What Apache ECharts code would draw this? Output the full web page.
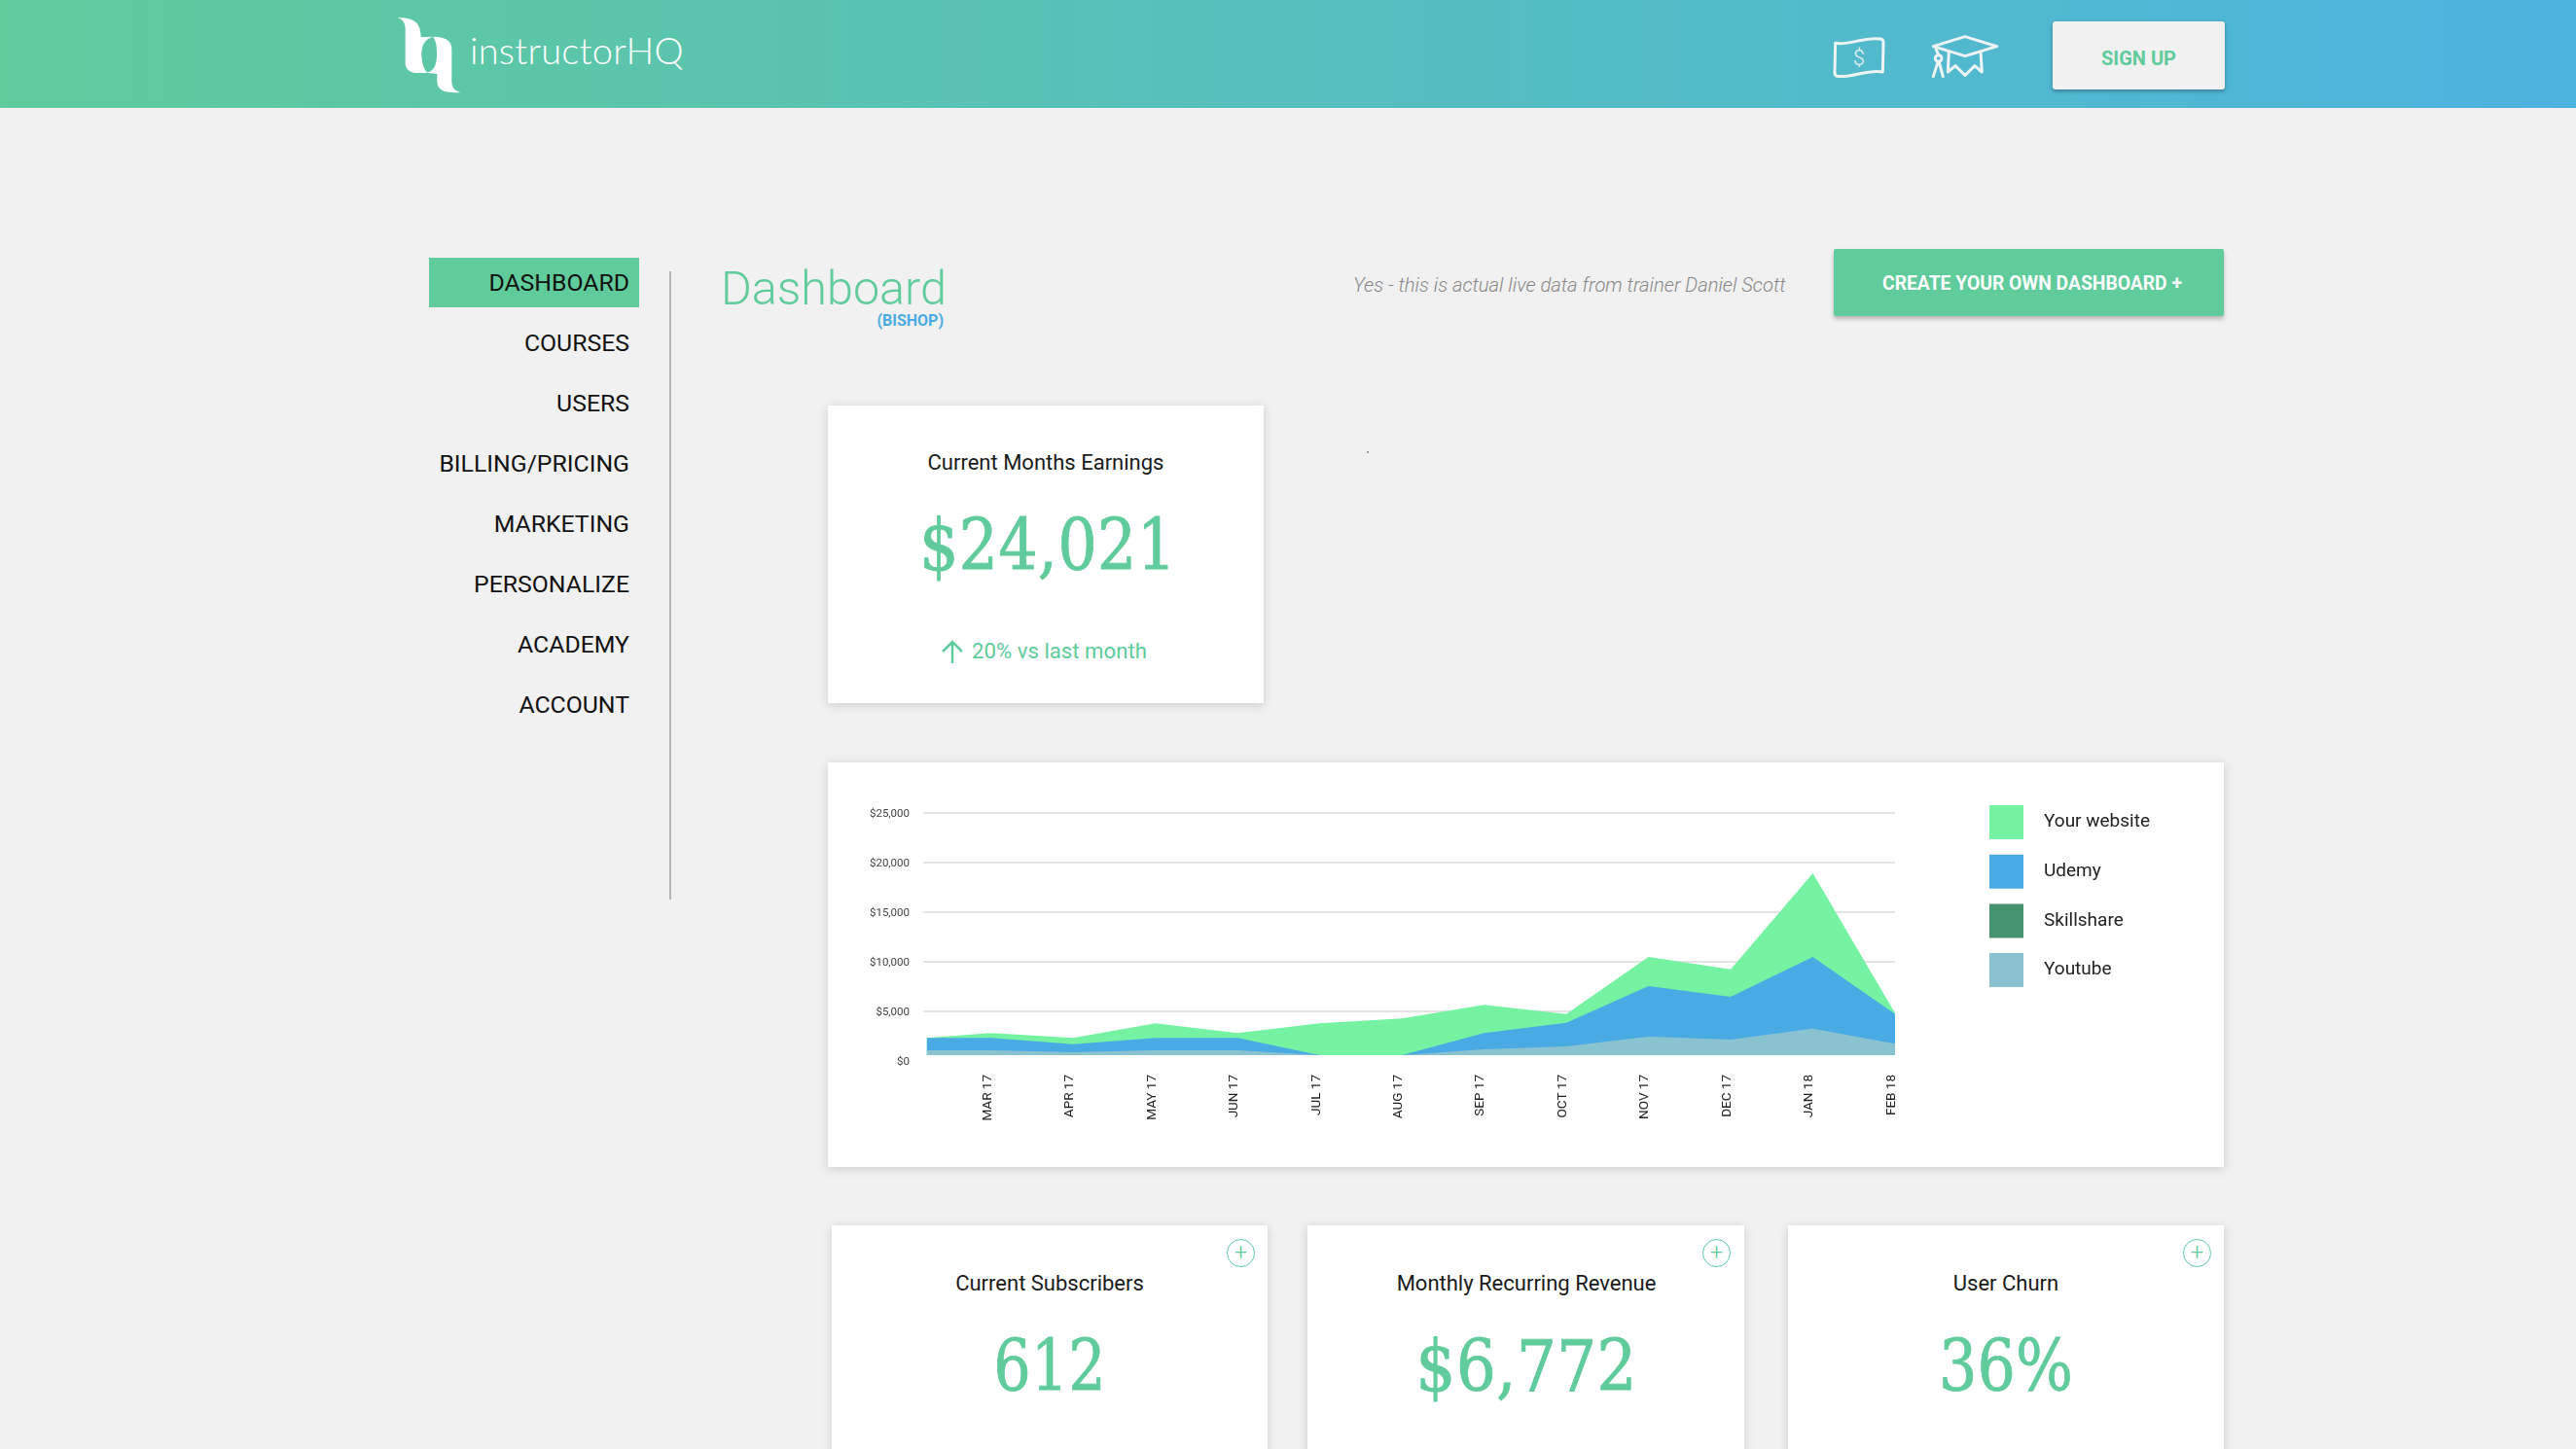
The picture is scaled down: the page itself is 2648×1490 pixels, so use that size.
<!DOCTYPE html>
<html>
<head>
<meta charset="utf-8">
<title>instructorHQ Dashboard</title>
<script src="https://cdn.jsdelivr.net/npm/echarts@6/dist/echarts.min.js"></script>
<style>
    html, body { margin: 0; padding: 0; width: 2648px; height: 1490px; overflow: hidden; background: #f1f1f1; font-family: Roboto, sans-serif; color: #222; }
    .abs { position: absolute; white-space: nowrap; }
    .header { left: 0; top: 0; width: 2648px; height: 111px; background: linear-gradient(90deg, #60cb9b 0%, #4db3df 100%); }
    .brand { left: 483px; top: 28px; font: 300 38px Lato, sans-serif; letter-spacing: .25px; color: #fff; }
    .signup { left: 2110px; top: 22px; width: 177px; height: 70px; line-height: 76px; text-align: center; background: #f1f1f1; border-radius: 3px; box-shadow: 0 2px 4px rgba(0,0,0,.3); color: #60cb9b; font-weight: 700; font-size: 20px; }
    .active { left: 441px; top: 265px; width: 216px; height: 51px; background: #60cb9b; }
    .nav { right: 2001px; font-size: 24.8px; line-height: 30px; color: #111; }
    .divider { left: 688px; top: 279px; width: 2px; height: 646px; background: #b5b5b5; }
    .title { left: 741px; top: 267px; font-weight: 300; font-size: 48.5px; line-height: 60px; color: #60cb9b; }
    .bishop { right: 1678px; top: 320px; font-weight: 700; font-size: 16px; line-height: 20px; color: #4aabe4; }
    .note { left: 1391px; top: 280px; font-style: italic; font-weight: 300; font-size: 20.2px; line-height: 26px; color: #888; }
    .create { left: 1885px; top: 256px; width: 401px; height: 69px; line-height: 71px; text-align: center; text-indent: 7px; background: #60cb9b; border-radius: 2px; box-shadow: 0 3px 4px rgba(0,0,0,.25); color: #fff; font-weight: 700; font-size: 19.3px; }
    .card { background: #fff; box-shadow: 0 2px 10px rgba(0,0,0,.15); }
    .label { font-size: 22px; line-height: 30px; text-align: center; color: #1a1a1a; transform: translateX(-50%); }
    .big { font-family: "DejaVu Serif", serif; font-size: 73px; line-height: 90px; color: #60cb9b; -webkit-text-stroke: .8px #60cb9b; transform: translateX(-50%) scaleX(.875); }
    .trend { left: 999px; top: 654px; font-size: 22.2px; line-height: 30px; color: #60cb9b; }
    .plus { width: 27px; height: 27px; border: 1.5px solid #60cb9b; border-radius: 50%; text-align: center; font-weight: 300; font-size: 24px; line-height: 26px; color: #60cb9b; }
    #earnings_chart { position: absolute; left: 851px; top: 784px; width: 1435px; height: 416px; }
</style>
</head>
<body>

<div class="abs header"></div>
<!-- logo -->
<svg class="abs" style="left:380px;top:0" width="500" height="120" viewBox="0 0 1500 360">
    <path fill="#fff" d="M85 55 C125 55 158 60 158 115 L195 113 C170 122 160 140 160 165 C160 190 165 210 178 225 L140 225 C120 222 110 210 110 195 L110 90 C110 70 100 58 85 55 Z"/>
    <path fill="#fff" d="M195 113 C232 113 253 125 253 150 L253 250 C253 270 262 282 282 285 C240 287 208 285 208 250 L208 228 L175 224 C195 222 205 205 207 175 C208 145 205 125 195 113 Z"/>
</svg>
<div class="abs brand">instructorHQ</div>
<!-- header icons -->
<svg class="abs" style="left:1850px;top:0" width="480" height="120" viewBox="0 0 1440 360">
    <g fill="none" stroke="#eef3f3" stroke-width="9" stroke-linecap="round" stroke-linejoin="round">
        <path d="M110 133 C150 142 200 112 250 120 Q258 122 258 130 L256 222 C210 212 160 242 115 235 Q108 232 108 225 Z"/>
        <path d="M412 143 L510 113 L608 143 L510 173 Z"/>
        <path d="M460 160 L457 222 L480 203 L510 232 L540 203 L562 222 L558 160"/>
        <path d="M420 150 L428 170 M426 192 L412 236 M430 192 L442 236"/>
        <circle cx="428" cy="180" r="10"/>
    </g>
    <text x="183" y="201" text-anchor="middle" fill="#eef3f3" font-family="Roboto" font-weight="300" font-size="64">$</text>
</svg>
<div class="abs signup">SIGN UP</div>

<!-- side menu -->
<div class="abs active"></div>
<div class="abs nav" style="top:276px">DASHBOARD</div>
<div class="abs nav" style="top:338px">COURSES</div>
<div class="abs nav" style="top:400px">USERS</div>
<div class="abs nav" style="top:462px">BILLING/PRICING</div>
<div class="abs nav" style="top:524px">MARKETING</div>
<div class="abs nav" style="top:586px">PERSONALIZE</div>
<div class="abs nav" style="top:648px">ACADEMY</div>
<div class="abs nav" style="top:710px">ACCOUNT</div>
<div class="abs divider"></div>

<div class="abs title">Dashboard</div>
<div class="abs bishop">(BISHOP)</div>
<div class="abs note">Yes - this is actual live data from trainer Daniel Scott</div>
<div class="abs create">CREATE YOUR OWN DASHBOARD +</div>
<div class="abs" style="left:1405px;top:464px;width:2px;height:2px;background:#999"></div>

<!-- earnings card -->
<div class="abs card" style="left:851px;top:417px;width:448px;height:306px"></div>
<div class="abs label" style="left:1075px;top:461px">Current Months Earnings</div>
<div class="abs big" style="left:1077px;top:516px">$24,021</div>
<svg class="abs" style="left:965px;top:656px" width="28" height="28" viewBox="0 0 28 28">
    <path d="M14 26 L14 4 M4 14 L14 4 L24 14" fill="none" stroke="#60cb9b" stroke-width="2.5"/>
</svg>
<div class="abs trend">20% vs last month</div>

<!-- chart card -->
<div class="abs card" style="left:851px;top:784px;width:1435px;height:416px"></div>
<div id="earnings_chart"></div>

<!-- bottom cards -->
<div class="abs card" style="left:855px;top:1260px;width:448px;height:260px"></div>
<div class="abs card" style="left:1344px;top:1260px;width:449px;height:260px"></div>
<div class="abs card" style="left:1838px;top:1260px;width:448px;height:260px"></div>
<div class="abs plus" style="left:1261px;top:1274px">+</div>
<div class="abs plus" style="left:1750px;top:1274px">+</div>
<div class="abs plus" style="left:2244px;top:1274px">+</div>
<div class="abs label" style="left:1079px;top:1305px">Current Subscribers</div>
<div class="abs label" style="left:1569px;top:1305px">Monthly Recurring Revenue</div>
<div class="abs label" style="left:2062px;top:1305px">User Churn</div>
<div class="abs big" style="left:1079px;top:1360px;transform:translateX(-50%) scaleX(.83)">612</div>
<div class="abs big" style="left:1569px;top:1360px;transform:translateX(-50%) scaleX(.89)">$6,772</div>
<div class="abs big" style="left:2062px;top:1360px;transform:translateX(-50%) scaleX(.85)">36%</div>

<script>
// month slots on the x axis, the first point starts just before MAR 17 and has no label
var months = ['MAR 17', 'APR 17', 'MAY 17', 'JUN 17', 'JUL 17', 'AUG 17', 'SEP 17', 'OCT 17', 'NOV 17', 'DEC 17', 'JAN 18', 'FEB 18'];
var slots = [-0.78, 0, 1, 2, 3, 4, 5, 6, 7, 8, 9, 10, 11];
var yTicks = [0, 5000, 10000, 15000, 20000, 25000];

// values (top edge of each area against the axis)
var yourWebsite = [2320, 2810, 2320, 3790, 2810, 3790, 4280, 5660, 4740, 10490, 9250, 18920, 4840];
var udemy = [2320, 2320, 1700, 2320, 2320, 590, 590, 2810, 3860, 7550, 6470, 10490, 4740];
var skillshare = [590, 590, 590, 590, 590, 590, 590, 590, 590, 590, 590, 590, 590];
var youtube = [1080, 1080, 880, 1080, 1080, 590, 590, 1180, 1470, 2450, 2160, 3270, 1740];

// areas sit on this level in the picture, a bit above the $0 label
var areaBase = 590;

function toPoints(values) {
    return values.map(function (v, i) { return [slots[i], v]; });
}

function areaSeries(name, values, color) {
    return {
        name: name,
        type: 'line',
        data: toPoints(values),
        showSymbol: false,
        lineStyle: { width: 0, color: color },
        itemStyle: { color: color },
        areaStyle: { color: color, opacity: 1, origin: areaBase }
    };
}

function loadChart() {
    var myChart = echarts.init(document.getElementById('earnings_chart'));

    var option = {
        animation: false,
        textStyle: { fontFamily: 'Roboto' },
        grid: { left: 98, right: 338, top: 52, bottom: 109 },
        legend: {
            orient: 'vertical',
            left: 1189,
            top: 39,
            icon: 'rect',
            itemWidth: 35,
            itemHeight: 35,
            itemGap: 15.7,
            data: ['Your website', 'Udemy', 'Skillshare', 'Youtube'],
            textStyle: { fontFamily: 'Roboto', fontSize: 19, color: '#222', padding: [6, 0, 0, 16] }
        },
        xAxis: {
            type: 'value',
            min: -0.825,
            max: 11,
            splitLine: { show: false },
            axisLine: { show: false },
            axisTick: { show: false },
            axisLabel: {
                customValues: months.map(function (m, i) { return i; }),
                formatter: function (v) { return months[v]; },
                rotate: 90,
                margin: 14,
                // nudges the turned labels a little left of their point, as in the picture
                verticalAlign: 'bottom',
                lineHeight: 7,
                fontFamily: 'Roboto',
                fontSize: 13.5,
                color: '#222',
                hideOverlap: false,
                showMinLabel: true,
                showMaxLabel: true
            }
        },
        yAxis: {
            type: 'value',
            min: yTicks[0],
            max: yTicks[yTicks.length - 1],
            interval: 5000,
            axisLine: { show: false },
            axisTick: { show: false },
            splitLine: { showMinLine: false, lineStyle: { color: '#e4e4e4', width: 2 } },
            axisLabel: {
                margin: 14,
                verticalAlign: 'top',
                lineHeight: 3,
                fontFamily: 'Roboto',
                fontSize: 11.5,
                color: '#444',
                formatter: function (v) { return '$' + v.toLocaleString('en-US'); }
            }
        },
        series: [
            areaSeries('Your website', yourWebsite, '#75f3a2'),
            areaSeries('Udemy', udemy, '#4aabe4'),
            areaSeries('Skillshare', skillshare, '#46936f'),
            areaSeries('Youtube', youtube, '#8ac3d0')
        ]
    };

    myChart.setOption(option);
}

loadChart();
</script>
</body>
</html>
